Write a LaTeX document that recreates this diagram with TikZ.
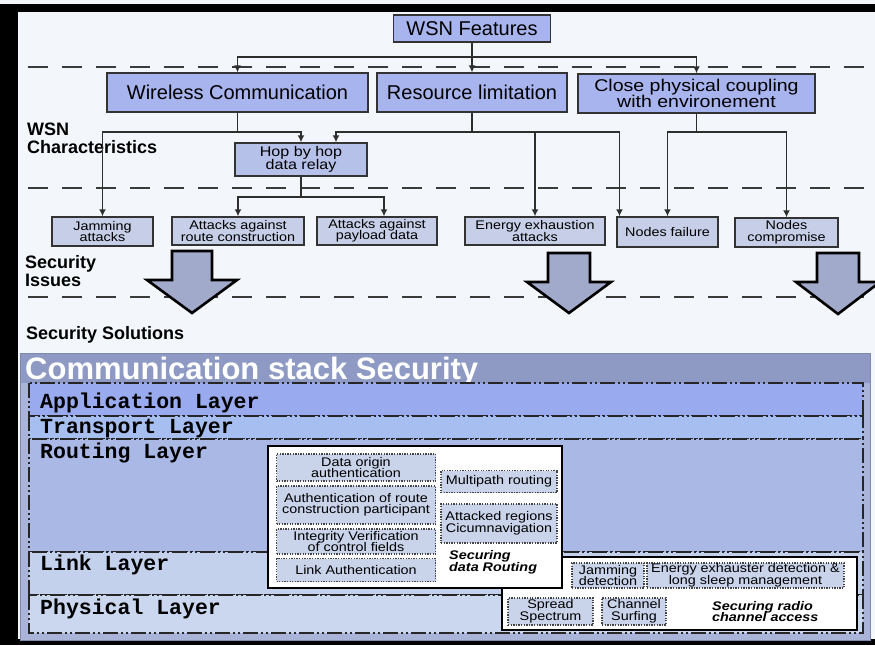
\documentclass[tikz,border=0pt]{standalone}
\usepackage{fontspec}
\setmainfont{Liberation Sans}
\setmonofont{Liberation Mono}
\newfontfamily\wide[FakeStretch=1.15]{Liberation Sans}
\usetikzlibrary{arrows.meta}

\definecolor{paper}{HTML}{F3F7FB}
\definecolor{featfill}{HTML}{A8B4EE}
\definecolor{hopfill}{HTML}{B6C1EA}
\definecolor{issuefill}{HTML}{C6CFE7}
\definecolor{boxline}{HTML}{333333}
\definecolor{conn}{HTML}{2E2E2E}
\definecolor{sepline}{HTML}{3A3A3A}
\definecolor{bigarrowfill}{HTML}{A2AACB}
\definecolor{panelfill}{HTML}{AAB4D9}
\definecolor{panelhead}{HTML}{8E9AC3}
\definecolor{panelline}{HTML}{7E89AE}
\definecolor{appfill}{HTML}{9AAAEE}
\definecolor{transfill}{HTML}{A7BEF0}
\definecolor{routefill}{HTML}{AAB8E6}
\definecolor{linkfill}{HTML}{C3D1ED}
\definecolor{physfill}{HTML}{CAD7EF}
\definecolor{solfill}{HTML}{C9D3EA}
\definecolor{dotline}{HTML}{444444}

% fixed baseline distance even when lines nearly touch
\newcommand\tightlines{\lineskiplimit=-100pt\lineskip=0pt\relax}

\tikzset{
  box/.style={draw=boxline, line width=1.4pt, fill=featfill, inner sep=0pt,
    align=center, font=\fontsize{20}{13}\selectfont\tightlines},
  twobox/.style={box, font=\wide\fontsize{17}{15.5}\selectfont\tightlines},
  hopbox/.style={box, fill=hopfill, font=\wide\fontsize{14}{13.5}\selectfont\tightlines},
  issuebox/.style={box, fill=issuefill, font=\wide\fontsize{12.5}{11.5}\selectfont\tightlines},
  solbox/.style={draw=dotline, line width=1.2pt, dash pattern=on 1.3pt off 1.3pt,
    fill=solfill, inner sep=0pt, align=center,
    font=\wide\fontsize{12.5}{11.5}\selectfont\tightlines},
  holder/.style={draw=black, line width=1.5pt, fill=white, inner sep=0pt},
  link/.style={draw=conn, line width=1.7pt},
  arr/.style={link, -{Latex[length=7pt,width=7pt]}},
  sep/.style={draw=sepline, line width=1.8pt, dash pattern=on 20pt off 14pt},
  bigarrow/.style={fill=bigarrowfill, draw=black, line width=2.6pt, line join=miter},
  layerframe/.style={draw=black!85, line width=1.5pt,
    dash pattern=on 15pt off 3pt on 2pt off 3pt on 2pt off 3pt},
  sectlabel/.style={anchor=base west, inner sep=0pt, align=left,
    font=\bfseries\fontsize{18}{17.5}\selectfont\tightlines},
  layerlabel/.style={anchor=base west, inner sep=0pt,
    font=\ttfamily\bfseries\fontsize{21.5}{22}\selectfont},
  solnote/.style={anchor=base west, inner sep=0pt, align=left,
    font=\wide\bfseries\itshape\fontsize{12.5}{11.5}\selectfont\tightlines}
}

\begin{document}
\begin{tikzpicture}[x=1pt,y=-1pt]
\useasboundingbox (0,0) rectangle (875,645);
\clip (0,0) rectangle (875,645);

% background and frame
\fill[paper] (0,0) rectangle (875,645);
\fill[black] (0,4) rectangle (875,12);
\fill[black] (0,4) rectangle (18,645);
\fill[black] (0,639) rectangle (875,645);

% level separators
\draw[sep] (28,67) -- (880,67);
\draw[sep] (28,188) -- (880,188);
\draw[sep] (28,297) -- (880,297);

% section labels (anchored on the baseline of the last line)
\node[sectlabel] (lblchar) at (27,153) {WSN\\Characteristics};
\node[sectlabel] (lblissue) at (25,286) {Security\\Issues};
\node[sectlabel] (lblsol) at (26,339) {Security Solutions};

% features
\node[box, minimum width=157pt, minimum height=27pt] (feat) at (472,28.5) {WSN Features};
\node[box, minimum width=261pt, minimum height=39pt] (wc) at (237.5,92.5) {Wireless Communication};
\node[box, minimum width=190pt, minimum height=39pt] (rl) at (472,92.5) {Resource limitation};
\node[twobox, minimum width=237pt, minimum height=39pt] (cp) at (696.5,93.5) {Close physical coupling\\with environement};
\node[hopbox, minimum width=132pt, minimum height=33pt] (hop) at (301,159.5) {Hop by hop\\data relay};

% issues
\node[issuebox, minimum width=101pt, minimum height=29pt] (jam) at (102.5,231.5) {Jamming\\attacks};
\node[issuebox, minimum width=132pt, minimum height=28pt] (route) at (238,231) {Attacks against\\route construction};
\node[issuebox, minimum width=120pt, minimum height=28pt] (payload) at (377,231) {Attacks against\\payload data};
\node[issuebox, minimum width=140pt, minimum height=28pt] (energy) at (535,231) {Energy exhaustion\\attacks};
\node[issuebox, minimum width=101pt, minimum height=30pt] (fail) at (667.5,232) {Nodes failure};
\node[issuebox, minimum width=103pt, minimum height=29pt] (comp) at (786.5,232.5) {Nodes\\compromise};

% connectors
\coordinate (j1) at (472,57);
\draw[link] (feat.south) -- (j1);
\draw[arr] (j1) -| (wc.north);
\draw[arr] (j1) -- (rl.north);
\draw[arr] (j1) -| (cp.north);

\coordinate (j2) at (237.5,132);
\draw[link] (wc.south) -- (j2);
\draw[arr] (j2) -| (jam.north);
\draw[arr] (j2) -| (hop.north);

\coordinate (j3) at (472,132);
\draw[link] (rl.south) -- (j3);
\draw[arr] (j3) -| ([xshift=35pt]hop.north);
\draw[arr] (j3) -| (energy.north);
\draw[arr] (j3) -| ([xshift=-48pt]fail.north);

\coordinate (j4) at (696.5,132);
\draw[link] (cp.south) -- (j4);
\draw[arr] (j4) -| (fail.north);
\draw[arr] (j4) -| (comp.north);

\coordinate (j5) at (301,197);
\draw[link] (hop.south) -- (j5);
\draw[arr] (j5) -| (route.north);
\draw[arr] (j5) -| ([xshift=7pt]payload.north);

% block arrows down to the solutions
\filldraw[bigarrow] (172,251) -- (212,251) -- (212,280) -- (237,280) -- (192,313)
  -- (147,280) -- (172,280) -- cycle;
\filldraw[bigarrow] (548,253) -- (590,253) -- (590,282) -- (611,282) -- (569,313)
  -- (527,282) -- (548,282) -- cycle;
\filldraw[bigarrow] (817,253) -- (859,253) -- (859,282) -- (880,282) -- (838,314)
  -- (796,282) -- (817,282) -- cycle;

% communication stack panel
\filldraw[fill=panelfill, draw=panelline, line width=1pt] (20,353) rectangle (870,640);
\fill[panelhead] (20.5,353.5) rectangle (869.5,383);
\node[anchor=base west, inner sep=0pt, text=white, font=\bfseries\fontsize{31}{31}\selectfont]
  (stacktitle) at (25,379) {Communication stack Security};

% protocol layers
\filldraw[layerframe, fill=appfill] (29,383) rectangle (863,416);
\filldraw[layerframe, fill=transfill] (29,416) rectangle (863,439);
\filldraw[layerframe, fill=routefill] (29,439) rectangle (863,552);
\filldraw[layerframe, fill=linkfill] (29,552) rectangle (863,595);
\filldraw[layerframe, fill=physfill] (29,595) rectangle (863,633);

\node[layerlabel] (appl) at (40,408) {Application Layer};
\node[layerlabel] (tranl) at (40,433) {Transport Layer};
\node[layerlabel] (routl) at (40,458) {Routing Layer};
\node[layerlabel] (linkl) at (40,570) {Link Layer};
\node[layerlabel] (physl) at (40,614) {Physical Layer};

% securing radio channel access (lies under the routing box)
\node[holder, minimum width=355pt, minimum height=73pt] (cbox) at (679.5,593.5) {};
\node[solbox, minimum width=72pt, minimum height=25pt] (jdt) at (608,575.5) {Jamming\\detection};
\node[solbox, minimum width=197pt, minimum height=25pt] (eed) at (745.5,575.5) {Energy exhauster detection \&\\long sleep management};
\node[solbox, minimum width=85pt, minimum height=27pt] (ssp) at (550.5,611.5) {Spread\\Spectrum};
\node[solbox, minimum width=64pt, minimum height=27pt] (csf) at (634,611.5) {Channel\\Surfing};
\node[solnote] (srca) at (712,621.5) {Securing radio\\channel access};

% securing data routing
\node[holder, minimum width=294pt, minimum height=142pt] (rbox) at (415,517) {};
\node[solbox, minimum width=159pt, minimum height=27pt] (dao) at (356,467.5) {Data origin\\authentication};
\node[solbox, minimum width=159pt, minimum height=38pt] (arc) at (356,505) {Authentication of route\\construction participant};
\node[solbox, minimum width=159pt, minimum height=25pt] (ivc) at (356,541.5) {Integrity Verification\\of control fields};
\node[solbox, minimum width=159pt, minimum height=23pt] (lau) at (356,570) {Link Authentication};
\node[solbox, minimum width=116pt, minimum height=22pt] (mpr) at (499,481.5) {Multipath routing};
\node[solbox, minimum width=116pt, minimum height=39pt] (arg) at (499,523.5) {Attacked regions\\Cicumnavigation};
\node[solnote] (sdr) at (449,571) {Securing\\data Routing};
\end{tikzpicture}
\end{document}
